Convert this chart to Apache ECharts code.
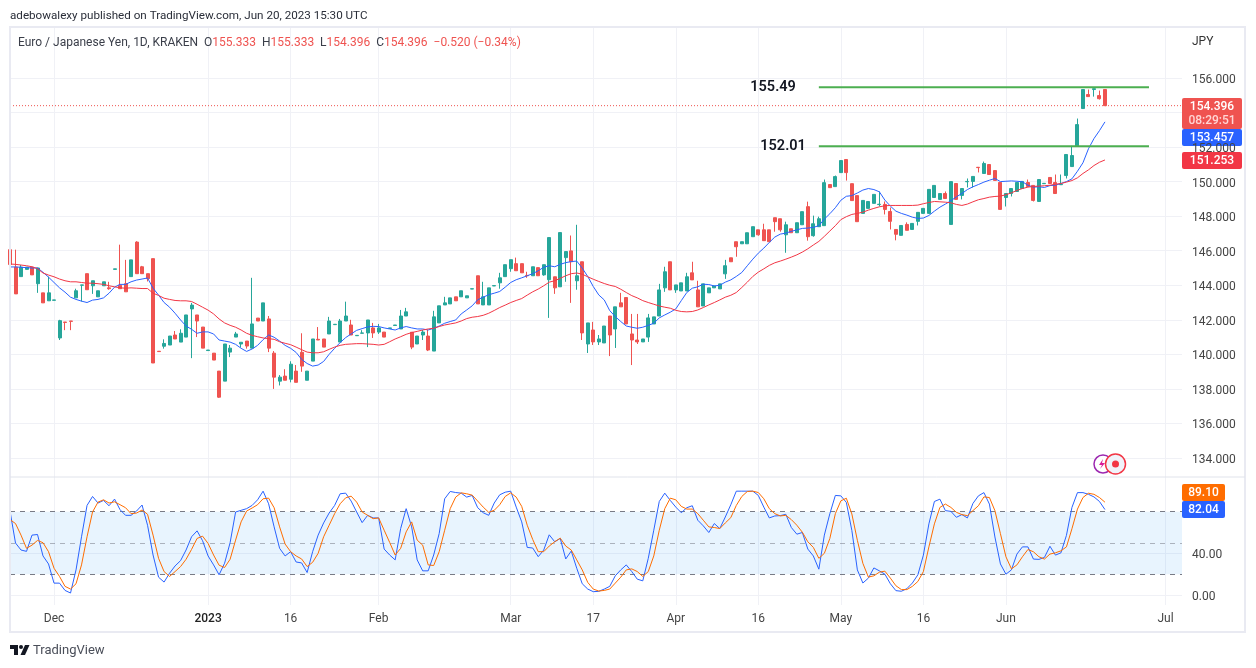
<!DOCTYPE html>
<html>
<head>
<meta charset="utf-8">
<title>EUR/JPY</title>
<script src="https://cdn.jsdelivr.net/npm/echarts@6/dist/echarts.min.js"></script>
<style>
  html, body { margin: 0; padding: 0; background: #fff; }
  #main { width: 1256px; height: 668px; }
</style>
</head>
<body>
<div id="main"></div>
<script>
const tickIndexes = [8, 36, 51, 67, 91, 106, 121, 136, 151, 166, 181, 210]
const tickNames = ['Dec', '2023', '16', 'Feb', 'Mar', '17', 'Apr', '16', 'May', '16', 'Jun', 'Jul']
const barCount = 214

const opens = [
  146.06,145.05,144.5,144.92,145.05,144.09,143.56,143.1,143.13,140.95,
  141.87,141.93,143.27,144,144.67,143.97,143.33,143.97,143.85,144.92,
  144,144.09,144.5,146.5,145.07,144.67,145.54,140.18,140.47,140.54,
  141.12,140.71,141,142.63,142.28,141.58,140.22,140.07,139.03,138.45,
  140.13,141,140.6,140.77,140.36,142.1,141.93,142.05,140.07,138.45,
  138.74,138.56,139.03,140.12,138.5,139.61,140.87,140.89,141.18,141.72,
  140.71,141.93,141.7,141.08,141.22,141.24,141.53,141.29,141.29,141.5,
  141.67,141.47,142.22,141.28,140.6,141.12,141.06,140.19,141.82,142.86,
  142.92,143.33,143.33,143.27,143.78,144.55,142.86,142.86,143.96,144.14,
  144.5,144.96,145.25,145.25,144.57,144.55,145.02,144.6,144.32,144.49,
  143.91,145.6,145.99,144.26,145.36,140.6,141.41,140.72,140.66,142.22,
  141.47,142.98,143.29,141.18,140.83,140.72,141,141.76,142.22,143.85,
  145.36,143.73,143.67,143.67,144.72,143.73,142.8,143.56,143.85,143.79,
  144.66,145.59,146.52,146.4,146.4,146.81,147.21,147.21,147.21,147.91,
  147.85,146.92,147.27,147.04,147.5,148.55,146.87,147.39,147.45,149.83,
  149.71,150.52,151.28,149.88,149.19,148.16,148.45,148.74,148.67,148.68,
  148.27,147.23,146.89,147.52,147.23,147.7,148.16,148.16,149.08,148.97,
  149.31,147.52,149.89,149.2,149.99,150.01,150.83,150.47,150.99,150.64,
  149.95,149.08,149.31,149.43,149.6,149.95,149.78,148.85,149.88,150.24,
  149.95,149.82,150.35,150.87,152.07,154.23,155.04,155.33,154.98,155.333
]
const closes = [
  145.2,143.5,145.05,145.05,144.6,145,142.98,143.56,143.15,141.95,
  141.85,141.91,143.68,144.02,143.74,144.26,143.68,144.2,143.8,144.95,
  143.8,143.62,145.47,144.67,144.67,144.38,139.5,140.16,140.63,141.06,
  140.89,141.22,142.28,142.85,141.93,140.36,140.25,139.67,137.52,140.6,
  140.36,141.18,140.7,140.48,141.76,141.93,142.98,140.36,138.68,138.68,
  138.5,139.43,138.38,139.32,139.03,140.89,140.83,140.42,141.93,141.74,
  141.93,142.22,141.12,141.1,141.24,141.99,141.24,141.53,141,141.53,
  141.7,142.22,142.46,140.42,141.06,141.29,140.25,142.17,142.81,142.98,
  143.27,143.1,143.68,143.39,143.8,142.92,143.33,143.85,143.98,144.43,
  145.19,145.48,144.84,144.72,144.55,145.07,144.55,145.19,146.76,143.85,
  147.05,145.95,145.36,144.55,141.24,141.82,140.72,140.89,141.64,141.12,
  142.75,142.75,141.76,140.83,140.72,140.89,142.11,142.17,143.73,144.78,
  143.73,144.02,144.14,144.49,144.31,142.75,144.08,143.85,143.96,144.08,
  145.13,145.36,146.23,146.52,147.04,147.39,146.92,146.58,146.52,147.68,
  147.21,147.5,147.04,147.62,148.26,146.81,147.56,147.85,149.94,149.65,
  150.29,151.22,150.52,148.9,147.68,148.91,148.85,149.26,148.69,148.39,
  147.7,146.95,147.46,147.18,147.58,148.22,148.45,149.55,149.78,149.31,
  149.02,150,148.97,149.6,150.01,150.3,150.81,151.05,150.41,150.07,
  148.39,149.31,149.6,149.95,150.01,149.72,148.91,150.12,149.9,149.89,
  149.31,149.84,151.57,151.51,153.3,155.33,154.92,155.38,154.8,154.396
]
const lows = [
  145.2,143.5,144.5,144.92,144.6,143.56,142.98,143.1,143.13,140.83,
  141.4,141.4,143.27,143.06,143.74,143.5,143.33,143.97,143.74,144.92,
  143.8,143.62,144.5,144.67,144.67,144.22,139.5,140.16,140.33,140.54,
  140.89,140.71,141,139.78,141,140.36,140.22,139.67,137.48,138.45,
  139.84,141,140.4,140.33,140.36,141.93,141.93,140.13,138,138.2,
  138.5,138.38,138.38,138.99,138.5,139.61,140.83,140.42,141.18,141.72,
  140.71,141.93,141.12,141.08,141.22,140.42,140.95,141.18,141,141.5,
  141.67,141.47,142.22,140.3,140.6,140.83,140.19,140.19,141.82,142.86,
  142.92,143.1,143.33,143.27,143.78,142.92,142.86,142.86,143.96,143.8,
  144.5,144.78,144.84,144.72,144.43,144.55,144.55,144.55,142.11,143.5,
  143.91,144.2,142.98,143.74,140.83,140.08,140.54,140.54,140.66,139.9,
  140.37,142.75,141.76,139.38,140.6,140.72,140.72,141.76,142.22,143.62,
  143.73,143.56,143.67,143.67,144.31,142.75,142.8,143.56,143.85,143.79,
  144.37,145.36,145.65,146.4,146.4,146.81,146.87,146.58,146.52,147.1,
  147.1,145.88,147.04,147.04,147.5,146.58,146.81,147.39,147.45,149.65,
  149.71,150.52,150.06,148.9,147.68,148.16,148.45,148.74,148.56,148.1,
  147.23,146.6,146.89,147.18,147.23,147.46,148.16,148.16,149.08,148.97,
  149.02,147.52,148.97,148.97,149.66,149.66,150.53,150.47,150.41,150.07,
  148.39,148.56,149.14,149.43,149.6,149.72,148.85,148.85,149.88,149.89,
  149.31,149.82,150.18,150.87,152.07,154.23,154.92,154.92,154.75,154.396
]
const highs = [
  146.06,146.06,145.17,145.05,145.05,145,143.56,144.5,143.15,142,
  141.87,141.93,143.8,144.02,144.67,144.26,143.68,144.2,144.2,144.95,
  146.35,145.47,145.47,146.55,145.12,144.67,145.54,140.18,140.87,141.06,
  141.35,141.45,142.28,142.98,142.28,141.58,140.25,140.07,139.03,140.6,
  140.54,141.3,140.7,140.77,144.43,142.1,142.98,142.22,140.19,138.8,
  139.14,139.6,139.38,141.22,139.03,140.89,141.58,140.89,142.17,141.74,
  142.05,143.05,142,141.1,141.4,141.99,141.82,141.76,141.29,141.53,
  141.7,142.57,142.69,141.28,141.06,141.41,141.41,142.52,142.81,143.33,
  143.27,143.33,143.68,143.39,143.8,144.55,144.2,143.85,143.98,144.72,
  145.19,145.48,145.6,145.25,144.78,145.07,145.02,145.19,146.76,144.49,
  147.05,145.95,146.88,147.5,145.36,141.82,141.88,141.12,141.64,142.22,
  142.75,143.56,143.29,142.34,142.34,140.89,142.34,142.17,144.08,145.07,
  145.36,144.02,144.14,144.72,145.36,144.26,144.08,143.85,143.96,144.08,
  145.47,145.59,146.52,146.52,147.04,147.39,147.21,147.56,147.21,147.91,
  147.85,147.68,147.27,147.62,148.26,148.84,148.03,147.97,150.12,149.83,
  150.35,151.22,151.28,149.88,149.19,148.91,148.85,149.26,149.43,148.85,
  148.5,147.23,147.46,147.64,147.58,148.22,148.45,149.55,149.78,149.31,
  149.43,150,149.89,149.6,150.18,150.3,150.83,151.16,150.99,150.64,
  149.95,149.31,149.6,149.95,150.01,150.12,149.78,150.12,149.9,150.24,
  150.41,150.41,151.57,152.07,153.65,155.33,155.33,155.38,155.27,155.333
]
const maFast = [
  145.06,145.06,145.04,145.02,145,145,144.75,144.47,144.16,143.85,
  143.6,143.31,143.18,143.08,143,143.14,143.18,143.27,143.54,143.89,
  144.05,144.05,144.2,144.3,144.36,144.42,143.83,143.43,143,142.73,
  142.38,141.99,141.64,141.45,141.22,141.3,141.3,141.18,140.83,140.77,
  140.71,140.58,140.35,140.17,140.31,140.52,140.85,141.12,140.99,140.77,
  140.52,140.35,140.11,139.71,139.47,139.32,139.38,139.59,140,140.35,
  140.68,140.97,141.18,141.39,141.49,141.59,141.62,141.61,141.53,141.47,
  141.41,141.53,141.61,141.53,141.47,141.47,141.41,141.51,141.64,141.8,
  141.9,141.99,142.34,142.57,142.81,143.16,143.31,143.45,143.54,143.64,
  143.89,144.16,144.32,144.43,144.55,144.67,144.84,145.04,145.13,145.07,
  145.21,145.31,145.37,145.4,144.99,144.51,143.93,143.44,143.15,142.53,
  142.19,141.9,141.64,141.57,141.51,141.57,141.68,141.8,142.11,142.28,
  142.44,142.63,143.11,143.58,143.83,143.91,144.06,144.04,143.96,144,
  144.18,144.31,144.51,144.74,145.13,145.51,145.86,146.15,146.48,146.79,
  146.96,147.02,147.12,147.21,147.29,147.31,147.35,147.45,147.83,148.14,
  148.49,148.92,149.15,149.19,149.34,149.51,149.6,149.54,149.41,148.93,
  148.58,148.29,148.16,148.06,147.94,147.87,147.89,148.04,148.29,148.52,
  148.7,148.89,149.12,149.31,149.54,149.7,149.83,149.97,150.08,150.18,
  150,150.02,150.04,150.02,149.99,149.79,149.68,149.7,149.66,149.77,
  149.79,149.89,150,150.16,150.6,151.09,151.9,152.49,152.95,153.457
]
const maSlow = [
  145.23,145.21,145.17,145.13,145.07,144.96,144.71,144.59,144.49,144.36,
  144.26,144.2,144.2,144.16,144.12,144.12,144.09,144.05,143.97,143.91,
  143.85,143.83,143.85,143.83,143.81,143.81,143.54,143.41,143.25,143.18,
  143.12,143.1,143.1,143.06,142.9,142.73,142.56,142.34,142.05,141.82,
  141.68,141.57,141.41,141.22,141.1,141.02,140.95,140.91,140.87,140.73,
  140.64,140.56,140.42,140.27,140.13,140.09,140.09,140.15,140.29,140.42,
  140.52,140.58,140.6,140.62,140.62,140.6,140.58,140.54,140.58,140.73,
  140.89,141.02,141.16,141.26,141.33,141.41,141.47,141.51,141.61,141.7,
  141.76,141.82,141.93,142.07,142.15,142.19,142.26,142.38,142.54,142.71,
  142.85,143,143.12,143.23,143.43,143.62,143.78,143.97,144.18,144.26,
  144.4,144.55,144.67,144.71,144.64,144.49,144.35,144.22,144.1,144,
  143.93,143.77,143.58,143.4,143.27,143.11,143,142.9,142.8,142.73,
  142.67,142.55,142.48,142.46,142.48,142.57,142.71,142.86,143,143.15,
  143.31,143.42,143.58,143.87,144.18,144.51,144.76,144.95,145.15,145.3,
  145.4,145.51,145.63,145.76,145.92,146.11,146.33,146.54,146.83,147.14,
  147.45,147.8,147.97,148.1,148.16,148.23,148.35,148.45,148.54,148.6,
  148.62,148.62,148.62,148.62,148.62,148.64,148.72,148.79,148.85,148.83,
  148.81,148.77,148.68,148.62,148.7,148.83,148.95,149.02,149.1,149.14,
  149.16,149.24,149.35,149.49,149.6,149.68,149.72,149.74,149.76,149.79,
  149.85,149.89,149.97,150.06,150.22,150.47,150.68,150.93,151.12,151.253
]
const stochK = [
  80.6,49.9,43.2,41.9,57.5,58.1,37.5,29.8,11.4,11.4,
  4.4,1.9,24.1,55.9,86,94.6,88.3,90.8,85.7,92.1,
  81.9,76.5,76.5,80.6,86.4,67,38.4,17.1,12.4,20.9,
  27.9,33,43.2,55.9,61.6,52.1,37.5,28.9,19.4,30.5,
  50.2,79.7,81.3,82.9,86,91.4,99.7,87.6,65.4,44.8,
  37.5,41.6,31.7,30.8,21.6,41.6,57.5,69.2,78.7,86,
  97.2,97.8,90.2,79.7,69.5,76.5,74,74,44.1,38.4,
  33.7,63.8,82.9,65.4,33.7,23.2,23.2,38.4,59,92.4,
  99.4,98.4,97.8,94,95.6,83.8,79,76.5,88.3,96.2,
  98.7,99.7,84.4,70.2,45.7,45.1,36.8,43.2,57.8,51.1,
  54.3,34.6,42.2,25.7,10.8,5.7,3.2,3.5,5.7,8.3,
  18.4,24.1,28.9,22.5,15.2,13.6,35.2,62.2,89.8,97.8,
  90.8,84.4,79,83.8,85.7,71.8,66.4,60,68.6,63.8,
  74.9,86.7,99.7,99.7,99.7,99.7,95.6,84.4,74,75.9,
  76.2,77.5,64.8,58.4,60,44.1,37.5,24.8,57.5,78.1,
  95.6,95.2,88.9,62,24.1,11.5,16.2,26,23.2,20,
  10.8,4.2,3.6,6.1,11.5,19.4,38.3,68.3,89.8,92,
  81,80.3,74.6,77.2,74,87.9,95.2,98.3,87.3,55.7,
  29.8,20,24.1,39.3,46.2,46.2,34.5,34.2,36.1,46.8,
  38.3,40.5,57.3,84.1,98.3,98.3,96.7,94.2,89.8,82.04
]
const stochD = [
  72.4,68.6,57.5,44.8,47.9,52.4,50.2,41.6,25.7,17.8,
  8.3,5.7,10.8,28.9,55.9,79.7,89.2,91.4,88.3,89.5,
  86.7,83.8,78.1,78.7,81.6,77.5,57.5,35.2,22.5,17.8,
  22.5,27.3,34.3,43.8,54.3,56.5,49.5,38.4,28.6,26.4,
  34.3,52.7,70.2,80.6,83.5,86.7,92.4,93,83.8,65.4,
  48.9,41.6,37.5,34.6,27.3,31.4,40,55.9,67,78.1,
  87.6,93.3,94.9,89.2,79.7,76.5,73.3,74,62.2,50.5,
  38.4,44.8,60.6,70.2,52.7,47.9,28.9,28.3,41.6,62.2,
  82.9,94,98.1,97.2,95.9,90.2,84.4,79.4,81.3,86.7,
  94.6,98.1,94,85.1,67,53.3,41.6,41.6,47,51.1,
  54.6,47,43.2,33.7,24.1,12.1,5.7,3.8,4.4,5.7,
  11.4,17.1,24.1,25.1,22.5,17.8,22.5,37.5,62.2,82.9,
  93,91.4,85.1,82.5,82.5,78.1,71.8,65.4,64.8,63.8,
  69.2,74.3,86,94.6,99.4,99.7,98.4,92.4,82.9,78.1,
  75.9,76.5,72.4,67,60.3,51.1,45.7,35.2,40,54.3,
  78.1,90.4,92.9,77.8,52.5,30.4,17.2,18.4,21.9,22.9,
  16.2,8.9,5.2,5.2,8.3,13,22.5,46.2,68.3,84.1,
  87.3,84.1,79.4,77.2,76.2,81,85.7,94.2,93.6,81,
  58.9,36.7,25.1,28.9,36.7,43.7,41.5,36.7,34.5,39.3,
  40.5,42.4,46.2,63.6,82.5,93.6,97.7,96.7,93.6,89.1
]
const priceTicks = [134, 136, 138, 140, 142, 144, 146, 148, 150, 152, 154, 156]
const priceLabels = [134, 136, 138, 140, 142, 144, 146, 148, 150, 152, 156]
const stochTicks = [0, 40]
const lastPrice = 154.396
const levelNames = ['155.49', '152.01']
const levels = [155.46, 152.05]
const levelBars = [147, 207]

const font = 'Roboto, "Noto Sans", sans-serif'
const upColor = '#26a69a'
const downColor = '#ef5350'
const gridColor = '#f0f1f6'
const frameColor = '#e9eaf2'

const categories = Array.from({ length: barCount }, (_, i) => {
  const t = tickIndexes.indexOf(i)
  return t >= 0 ? tickNames[t] : ''
})
const isTick = (i) => tickIndexes.includes(i)
const candles = opens.map((o, i) => [o, closes[i], lows[i], highs[i]])

const levelSeries = (value, name, gap) => ({
  type: 'line',
  xAxisIndex: 0,
  yAxisIndex: 0,
  symbol: 'circle',
  symbolSize: 0.01,
  showSymbol: true,
  showAllSymbol: true,
  silent: true,
  z: 6,
  lineStyle: { color: '#4caf50', width: 2 },
  itemStyle: { color: '#4caf50' },
  data: [
    {
      value: [levelBars[0], value],
      label: {
        show: true,
        position: 'left',
        distance: gap,
        formatter: name,
        color: '#131722',
        fontFamily: font,
        fontWeight: 600,
        fontSize: 14.5
      }
    },
    [levelBars[1], value]
  ]
})

// 右侧价格标签
const badge = (y, h, color, text, textY) => ({
  type: 'group',
  z: 100,
  children: [
    { type: 'rect', shape: { x: 1182, y: y, width: text.length > 5 ? 60 : 43, height: h, r: 2 }, style: { fill: color } },
    { type: 'text', x: text.length > 5 ? 1212 : 1203.5, y: textY, style: { text: text, fill: '#fff', font: '500 12px ' + font, align: 'center', verticalAlign: 'middle' } }
  ]
})

const option = {
  animation: false,
  backgroundColor: '#fff',
  textStyle: { fontFamily: font },
  title: [
    { text: 'adebowalexy published on TradingView.com, Jun 20, 2023 15:30 UTC', left: 10, top: 10, padding: 0, textStyle: { fontSize: 11.65, fontWeight: 400, color: '#2a2e39', fontFamily: font } },
    {
      text: '{k|Euro / Japanese Yen, 1D, KRAKEN  O}{v|155.333}{k|  H}{v|155.333}{k|  L}{v|154.396}{k|  C}{v|154.396  \u22120.520 (\u22120.34%)}',
      left: 18, top: 37, padding: 0,
      textStyle: {
        fontWeight: 400,
        rich: {
          k: { fontSize: 12, fontWeight: 400, color: '#3a3e49', fontFamily: font },
          v: { fontSize: 12, fontWeight: 400, color: '#ef5350', fontFamily: font }
        }
      }
    },
    { text: 'JPY', left: 1192, top: 36, padding: 0, textStyle: { fontSize: 12, fontWeight: 400, color: '#333', fontFamily: font } },
    { text: 'TradingView', left: 33, top: 644, padding: 0, textStyle: { fontSize: 13, fontWeight: 400, color: '#4a4e59', fontFamily: font } }
  ],
  grid: [
    { left: 10, right: 74, top: 27, height: 450 },
    { left: 10, right: 74, top: 477, height: 128 }
  ],
  xAxis: [
    {
      type: 'category', gridIndex: 0, data: categories, boundaryGap: false,
      axisLine: { show: false }, axisTick: { show: false }, axisLabel: { show: false },
      splitLine: { show: true, interval: isTick, lineStyle: { color: gridColor, width: 1 } }
    },
    {
      type: 'category', gridIndex: 1, data: categories, boundaryGap: false,
      axisLine: { show: false }, axisTick: { show: false },
      axisLabel: {
        interval: isTick, margin: 8, fontSize: 12, color: '#444', fontFamily: font,
        formatter: (v) => (v === '2023' ? '{b|2023}' : v),
        rich: { b: { fontSize: 12, fontWeight: 500, color: '#222', fontFamily: font } }
      },
      splitLine: { show: true, interval: isTick, lineStyle: { color: gridColor, width: 1 } }
    }
  ],
  yAxis: [
    {
      type: 'value', gridIndex: 0, position: 'right', min: 132.9, max: 158.95, scale: true,
      axisLine: { show: false },
      axisTick: { show: false, customValues: priceTicks },
      axisLabel: { customValues: priceLabels, margin: 10, fontSize: 12, color: '#444', fontFamily: font, verticalAlign: 'top', lineHeight: 4, formatter: (v) => v.toFixed(3) },
      splitLine: { show: true, lineStyle: { color: gridColor, width: 1 } }
    },
    {
      type: 'value', gridIndex: 1, position: 'right', min: -9.6, max: 113.3,
      axisLine: { show: false },
      axisTick: { show: false, customValues: stochTicks },
      axisLabel: { customValues: stochTicks, margin: 10, fontSize: 12, color: '#444', fontFamily: font, verticalAlign: 'top', lineHeight: 3, formatter: (v) => v.toFixed(2) },
      splitLine: { show: true, lineStyle: { color: gridColor, width: 1 } }
    }
  ],
  series: [
    {
      type: 'candlestick', xAxisIndex: 0, yAxisIndex: 0, data: candles, barWidth: 3.5, silent: true, z: 4,
      itemStyle: { color: upColor, color0: downColor, borderColor: upColor, borderColor0: downColor, borderWidth: 1 }
    },
    // 最新价虚线
    {
      type: 'line', xAxisIndex: 0, yAxisIndex: 0, symbol: 'none', silent: true, z: 3,
      lineStyle: { color: '#ef5350', type: [1, 2], width: 1 },
      data: [[0, lastPrice], [barCount - 1, lastPrice]]
    },
    { type: 'line', xAxisIndex: 0, yAxisIndex: 0, data: maFast, symbol: 'none', silent: true, z: 5, lineStyle: { color: '#2962ff', width: 1 } },
    { type: 'line', xAxisIndex: 0, yAxisIndex: 0, data: maSlow, symbol: 'none', silent: true, z: 5, lineStyle: { color: '#f23645', width: 1 } },
    levelSeries(levels[0], levelNames[0], 23),
    levelSeries(levels[1], levelNames[1], 13),
    {
      type: 'line', xAxisIndex: 1, yAxisIndex: 1, data: stochK, symbol: 'none', silent: true, z: 5,
      lineStyle: { color: '#2962ff', width: 1 },
      markArea: { silent: true, itemStyle: { color: 'rgba(33,150,243,0.1)' }, data: [[{ yAxis: 20 }, { yAxis: 80 }]] },
      markLine: {
        silent: true, symbol: 'none', label: { show: false },
        data: [
          { yAxis: 80, lineStyle: { color: '#787b86', type: [5, 5], width: 1 } },
          { yAxis: 50, lineStyle: { color: 'rgba(120,123,134,0.55)', type: [5, 5], width: 1 } },
          { yAxis: 20, lineStyle: { color: '#787b86', type: [5, 5], width: 1 } }
        ]
      }
    },
    { type: 'line', xAxisIndex: 1, yAxisIndex: 1, data: stochD, symbol: 'none', silent: true, z: 5, lineStyle: { color: '#ff6d00', width: 1 } }
  ],
  graphic: [
    // 外框和分隔线
    { type: 'rect', z: 50, shape: { x: 10, y: 27, width: 1235, height: 605 }, style: { fill: 'none', stroke: frameColor, lineWidth: 2 } },
    { type: 'line', z: 50, shape: { x1: 10, y1: 477, x2: 1245, y2: 477 }, style: { stroke: '#e0e3eb', lineWidth: 1 } },
    badge(98, 31, '#ef5350', '154.396', 106.5),
    { type: 'text', z: 101, x: 1212, y: 120.5, style: { text: '08:29:51', fill: '#ffd5d4', font: '500 12px ' + font, align: 'center', verticalAlign: 'middle' } },
    badge(129, 17, '#2962ff', '153.457', 138),
    badge(152, 17, '#f23645', '151.253', 161),
    badge(484, 17, '#ff6d00', '89.10', 493),
    badge(501, 17, '#2962ff', '82.04', 510),
    // 事件图标
    { type: 'circle', z: 60, shape: { cx: 1103, cy: 464, r: 9 }, style: { fill: '#fff', stroke: '#9c27b0', lineWidth: 1.5 } },
    { type: 'polygon', z: 61, shape: { points: [[1103, 459], [1099, 465], [1102, 465], [1100, 469], [1105, 463], [1102, 463]] }, style: { fill: '#d81b9a' } },
    { type: 'circle', z: 62, shape: { cx: 1115.5, cy: 464, r: 10 }, style: { fill: '#f0f3fa', stroke: '#f23645', lineWidth: 1.5 } },
    { type: 'circle', z: 63, shape: { cx: 1115.5, cy: 464, r: 3.5 }, style: { fill: '#f23645' } },
    // TradingView 标志
    { type: 'polygon', z: 60, shape: { points: [[10, 645], [18, 645], [18, 655], [14, 655], [14, 649], [10, 649]] }, style: { fill: '#131722' } },
    { type: 'circle', z: 60, shape: { cx: 21, cy: 647, r: 2 }, style: { fill: '#131722' } },
    { type: 'polygon', z: 60, shape: { points: [[25, 645], [29.5, 645], [25, 655], [20.5, 655]] }, style: { fill: '#131722' } }
  ]
}

const myChart = echarts.init(document.getElementById('main'))
myChart.setOption(option)
</script>
</body>
</html>
